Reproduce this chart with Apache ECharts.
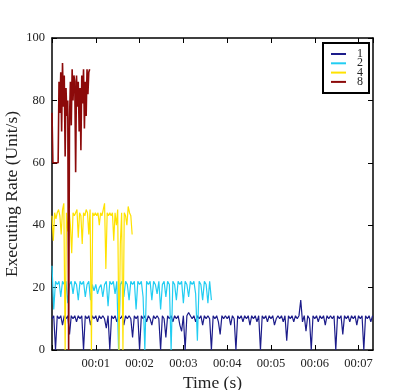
<!DOCTYPE html>
<html>
<head>
<meta charset="utf-8">
<script src="https://cdn.jsdelivr.net/npm/echarts@6/dist/echarts.min.js"></script>
<style>
html, body { margin: 0; padding: 0; background: #fff; }
#chart { width: 415px; height: 390px; }
</style>
</head>
<body>
<div id="chart"></div>
<script>
// executing rate per worker count, sampled at a fixed step (seconds)
const seriesNames = ['1', '2', '4', '8'];
const seriesColors = ['#1c1c8a', '#22cdf2', '#ffe200', '#8c0a0a'];
const sampleStep = [0.04, 0.04, 0.03, 0.02];

const rate1 = [
  10, 11, 0, 11, 10, 11, 8, 11, 10, 11,
  5, 11, 10, 11, 9, 11, 10, 11, 0, 11,
  10, 11, 8, 11, 10, 11, 9, 11, 10, 11,
  10, 7, 11, 0, 11, 10, 11, 9, 11, 10,
  11, 8, 11, 10, 11, 10, 4, 11, 10, 11,
  0, 11, 10, 11, 9, 11, 10, 8, 11, 10,
  11, 10, 0, 11, 10, 4, 11, 10, 11, 9,
  11, 10, 11, 8, 6, 11, 0, 11, 12, 11,
  10, 11, 9, 11, 10, 11, 8, 11, 10, 11,
  10, 0, 11, 10, 11, 9, 5, 11, 10, 11,
  10, 11, 8, 11, 10, 0, 11, 10, 11, 9,
  11, 10, 11, 8, 11, 10, 11, 9, 11, 0,
  11, 10, 11, 9, 11, 10, 11, 8, 10, 11,
  10, 11, 9, 11, 3, 11, 10, 11, 9, 11,
  10, 11, 16, 9, 11, 6, 11, 10, 0, 11,
  10, 11, 9, 11, 10, 11, 8, 11, 10, 11,
  10, 11, 0, 11, 10, 11, 5, 11, 10, 11,
  9, 11, 10, 11, 8, 11, 10, 11, 0, 11,
  10, 11, 9, 11
];

const rate2 = [
  27, 13, 22, 21, 22, 17, 22, 21, 22, 15,
  21, 22, 18, 22, 21, 16, 22, 21, 22, 17,
  21, 22, 16, 21, 19, 21, 18, 20, 21, 17,
  21, 22, 14, 22, 21, 22, 18, 22, 0, 21,
  22, 17, 22, 21, 16, 22, 21, 22, 13, 22,
  21, 22, 17, 0, 22, 21, 22, 16, 22, 21,
  18, 22, 13, 21, 22, 17, 22, 21, 0, 22,
  21, 16, 22, 21, 22, 15, 22, 21, 17, 22,
  21, 22, 18, 3, 22, 21, 16, 22, 21, 15,
  22, 16
];

const rate4 = [
  43, 35, 44, 42, 44, 45, 43, 37, 45, 47,
  0, 44, 38, 45, 40, 31, 44, 43, 44, 45,
  36, 44, 43, 34, 44, 43, 45, 44, 37, 45,
  0, 44, 43, 44, 43, 44, 40, 44, 43, 45,
  47, 26, 44, 43, 44, 43, 44, 35, 44, 40,
  45, 0, 34, 44, 0, 44, 43, 40, 46, 44,
  43, 37
];

const rate8 = [
  76, 60, 60, 60, 60, 60, 60, 60, 86, 76,
  89, 70, 92, 78, 88, 62, 84, 75, 80, 0,
  74, 86, 72, 90, 80, 88, 86, 57, 88, 78,
  86, 70, 84, 64, 88, 79, 90, 71, 86, 75,
  90, 82, 89, 90
];

const xTickLabels = ['', '00:01', '00:02', '00:03', '00:04', '00:05', '00:06', '00:07'];
const xMax = 7.33;
const yTicks = [0, 20, 40, 60, 80, 100];

const rates = [rate1, rate2, rate4, rate8];
const font = 'Liberation Serif';

function toPairs (values, step) {
  return values.map((v, i) => [Math.round(i * step * 1000) / 1000, v]);
}

const frameLine = { lineStyle: { color: '#000', width: 1.5 }, onZero: false };
const innerTick = { inside: true, length: 5, lineStyle: { color: '#000', width: 1 } };
const labelStyle = { fontFamily: font, fontSize: 12.5, color: '#222' };

let chart = echarts.init(document.getElementById('chart'));
let option = {
  animation: false,
  backgroundColor: '#fff',
  grid: { left: 52, right: 42, top: 38, bottom: 40, containLabel: false, outerBoundsMode: 'none' },
  legend: {
    data: seriesNames,
    orient: 'vertical',
    left: 323,
    top: 43,
    padding: [5, 6, 5, 8],
    itemGap: -2.7,
    itemWidth: 15,
    itemHeight: 2,
    icon: 'rect',
    backgroundColor: '#fff',
    borderColor: '#000',
    borderWidth: 2,
    borderRadius: 0,
    textStyle: { fontFamily: font, fontSize: 12, lineHeight: 9.3, padding: [0, 0, 0, 6], color: '#222' }
  },
  xAxis: [
    {
      type: 'value',
      min: 0,
      max: xMax,
      interval: 1,
      position: 'bottom',
      axisLine: frameLine,
      axisTick: innerTick,
      splitLine: { show: false },
      axisLabel: Object.assign({
        margin: 7,
        showMaxLabel: false,
        formatter: v => (Number.isInteger(v) ? (xTickLabels[v] || '') : '')
      }, labelStyle),
      name: 'Time (s)',
      nameLocation: 'middle',
      nameGap: 24,
      nameMoveOverlap: false,
      nameTextStyle: { fontFamily: font, fontSize: 17.5, color: '#222' }
    },
    {
      type: 'value',
      min: 0,
      max: xMax,
      interval: 1,
      position: 'top',
      axisLine: frameLine,
      axisTick: innerTick,
      splitLine: { show: false },
      axisLabel: { show: false }
    }
  ],
  yAxis: [
    {
      type: 'value',
      min: yTicks[0],
      max: yTicks[yTicks.length - 1],
      interval: 20,
      position: 'left',
      axisLine: frameLine,
      axisTick: innerTick,
      splitLine: { show: false },
      axisLabel: Object.assign({ margin: 7 }, labelStyle),
      name: 'Executing Rate (Unit/s)',
      nameLocation: 'middle',
      nameGap: 31,
      nameMoveOverlap: false,
      nameTextStyle: { fontFamily: font, fontSize: 17.5, color: '#222' }
    },
    {
      type: 'value',
      min: yTicks[0],
      max: yTicks[yTicks.length - 1],
      interval: 20,
      position: 'right',
      axisLine: frameLine,
      axisTick: innerTick,
      splitLine: { show: false },
      axisLabel: { show: false }
    }
  ],
  series: seriesNames.map((name, k) => ({
    name: name,
    type: 'line',
    xAxisIndex: 0,
    yAxisIndex: 0,
    data: toPairs(rates[k], sampleStep[k]),
    symbol: 'none',
    showSymbol: false,
    color: seriesColors[k],
    lineStyle: { color: seriesColors[k], width: k === 3 ? 1.6 : 1.2 },
    z: 2 + k
  }))
};
chart.setOption(option);
</script>
</body>
</html>
